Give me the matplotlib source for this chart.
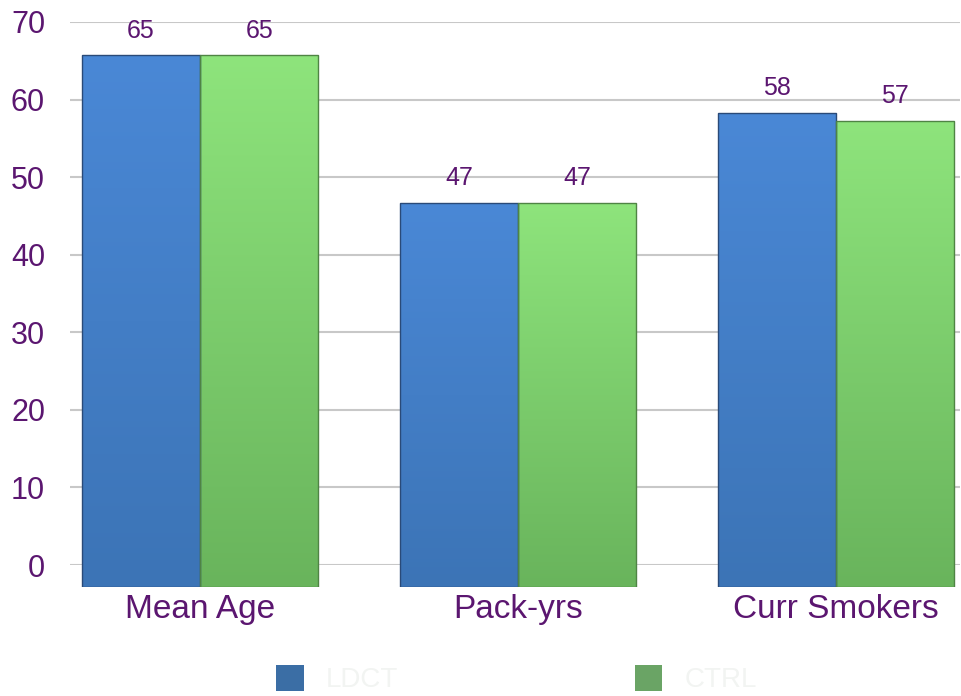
import matplotlib
matplotlib.use('Agg')
import matplotlib.pyplot as plt
import numpy as np
from matplotlib.patches import Patch

# data
categories = ['Mean Age', 'Pack-yrs', 'Curr Smokers']
ldct = [65, 47, 58]
ctrl = [65, 47, 57]
series_names = ['LDCT', 'CTRL']
yticks = [0, 10, 20, 30, 40, 50, 60, 70]

purple = '#5b1670'
blue_top, blue_bot = '#4a88d6', '#3c74b6'
green_top, green_bot = '#8ee47c', '#69b45c'

plt.rcParams['font.family'] = ['Liberation Sans', 'DejaVu Sans']

fig = plt.figure(figsize=(9.62, 6.96), dpi=100)

# back wall: gridlines and value scale
back = fig.add_axes([0.0728, 0.1882, 0.925, 0.7802])
back.set_ylim(0, 70)
back.set_xlim(0, 1)
back.set_yticks(yticks)
back.set_yticklabels([str(t) for t in yticks], color=purple, fontsize=22)
back.tick_params(axis='y', length=0, pad=18)
back.set_xticks([])
back.grid(axis='y', color='#c8c8c8', lw=1.5)
for s in back.spines.values():
    s.set_visible(False)

# front: bars (drawn slightly larger, as if nearer to the viewer)
front = fig.add_axes([0.0728, 0.1566, 0.925, 0.8227])
front.patch.set_visible(False)
for s in front.spines.values():
    s.set_visible(False)
front.set_yticks([])

x = np.arange(len(categories))
w = 0.372


def gradient_bars(ax, xs, vals, top, bot, edge):
    bars = ax.bar(xs, vals, width=w, color='none', edgecolor=edge, linewidth=1.0, zorder=3)
    grad = np.linspace(0, 1, 256).reshape(-1, 1)
    cmap = matplotlib.colors.LinearSegmentedColormap.from_list('g', [bot, top])
    for b in bars:
        x0, y0 = b.get_x(), b.get_y()
        im = ax.imshow(grad, extent=[x0, x0 + b.get_width(), y0, y0 + b.get_height()],
                       origin='lower', cmap=cmap, aspect='auto', zorder=2)
        im.set_clip_path(b)
    return bars


b1 = gradient_bars(front, x - w / 2, ldct, blue_top, blue_bot, '#2a4a78')
b2 = gradient_bars(front, x + w / 2, ctrl, green_top, green_bot, '#4f8444')
front.set_xlim(-0.409, 2.39)
front.set_ylim(0, 70)

for bars, vals in [(b1, ldct), (b2, ctrl)]:
    for b, v in zip(bars, vals):
        front.annotate(str(v), (b.get_x() + b.get_width() / 2, v), xytext=(0, 9),
                       textcoords='offset points', ha='center', va='bottom',
                       fontsize=18, color=purple)

front.set_xticks(x)
front.set_xticklabels(categories, fontsize=24, color=purple)
front.tick_params(axis='x', length=0, pad=5)

handles = [Patch(facecolor='#3b6ea5'), Patch(facecolor='#6aa465')]
fig.legend(handles, series_names, loc='center', bbox_to_anchor=(0.537, 0.0244), ncol=2,
           frameon=False, fontsize=20, labelcolor='#f2f4f2', handlelength=1.0,
           handleheight=1.05, handletextpad=0.8, columnspacing=8.5)

fig.savefig('out.png', dpi=100, facecolor='white')
